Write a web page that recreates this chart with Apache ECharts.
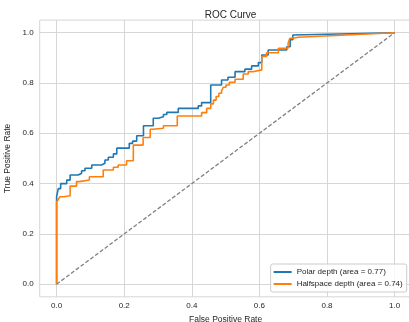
<!DOCTYPE html>
<html>
<head>
<meta charset="utf-8">
<script src="https://cdn.jsdelivr.net/npm/echarts@6/dist/echarts.min.js"></script>
<style>
  html, body { margin: 0; padding: 0; background: #fff; }
  #chart { width: 409px; height: 322px; }
</style>
</head>
<body>
<div id="chart"></div>
<script>
// ROC points: fpr where the curve steps up, tpr after the step
const polarFpr = [0, 0.005, 0.012, 0.030, 0.040, 0.064, 0.074, 0.084, 0.104, 0.133, 0.143, 0.153, 0.168, 0.178, 0.215, 0.225, 0.237, 0.257, 0.286, 0.301, 0.316, 0.326, 0.360, 0.419, 0.429, 0.456, 0.488, 0.507, 0.528, 0.557, 0.577, 0.597, 0.607, 0.626, 0.681, 0.691, 0.699, 1.0];
const polarTpr = [0.348, 0.380, 0.400, 0.414, 0.434, 0.441, 0.451, 0.461, 0.474, 0.481, 0.494, 0.505, 0.518, 0.541, 0.560, 0.569, 0.590, 0.630, 0.660, 0.666, 0.675, 0.683, 0.699, 0.709, 0.722, 0.792, 0.812, 0.823, 0.845, 0.855, 0.868, 0.881, 0.911, 0.931, 0.944, 0.972, 0.991, 1.0];

const halfFpr = [0, 0.005, 0.010, 0.020, 0.040, 0.059, 0.067, 0.097, 0.138, 0.168, 0.182, 0.207, 0.227, 0.256, 0.277, 0.284, 0.316, 0.357, 0.429, 0.444, 0.456, 0.464, 0.472, 0.480, 0.488, 0.493, 0.501, 0.511, 0.528, 0.552, 0.567, 0.580, 0.607, 0.621, 0.656, 0.685, 0.690, 0.700, 0.715, 1.0];
const halfTpr = [0.328, 0.337, 0.348, 0.352, 0.390, 0.408, 0.414, 0.427, 0.454, 0.465, 0.474, 0.491, 0.553, 0.583, 0.616, 0.620, 0.630, 0.669, 0.682, 0.699, 0.717, 0.732, 0.746, 0.759, 0.769, 0.783, 0.792, 0.803, 0.815, 0.836, 0.845, 0.852, 0.905, 0.920, 0.938, 0.958, 0.978, 0.982, 0.988, 1.0];

const chanceLine = [[0, 0], [1, 1]];
const tickValues = [0, 0.2, 0.4, 0.6, 0.8, 1.0];
const seriesNames = ['Polar depth (area = 0.77)', 'Halfspace depth (area = 0.74)'];

// turn the jump points into a staircase, last point joined straight
function staircase(fpr, tpr) {
  const pts = [[0, 0]];
  let prev = 0;
  for (let i = 0; i < fpr.length - 1; i++) {
    pts.push([fpr[i], prev], [fpr[i], tpr[i]]);
    prev = tpr[i];
  }
  pts.push([fpr[fpr.length - 1], tpr[tpr.length - 1]]);
  return pts;
}

function tickLabel(v) {
  return Number(v).toFixed(1);
}

const chart = echarts.init(document.getElementById('chart'));
const gridColor = '#d6d6d6';
const textColor = '#262626';

function valueAxis(name, gap, margin) {
  return {
    type: 'value', min: -0.05, max: 1.05,
    name: name, nameLocation: 'middle', nameGap: gap,
    nameTextStyle: { fontSize: 8.5, color: textColor },
    axisLine: { show: false },
    axisTick: { show: false, customValues: tickValues },
    axisLabel: { fontSize: 8, color: textColor, margin: margin, customValues: tickValues, formatter: tickLabel },
    splitLine: { show: true, lineStyle: { color: gridColor, width: 1 } }
  };
}

const option = {
  animation: false,
  backgroundColor: '#fff',
  textStyle: { fontFamily: 'Liberation Sans' },
  title: {
    text: 'ROC Curve',
    left: 225.5,
    textAlign: 'center',
    top: 5,
    textStyle: { fontSize: 10, fontWeight: 'normal', color: textColor, fontFamily: 'Liberation Sans' }
  },
  grid: {
    left: 39.7, top: 20.1, width: 371.8, height: 276.7,
    outerBoundsMode: 'none', containLabel: false,
    show: true, borderColor: gridColor, borderWidth: 1
  },
  xAxis: valueAxis('False Positive Rate', 14, 5),
  yAxis: valueAxis('True Positive Rate', 24, 6),
  legend: {
    data: seriesNames,
    orient: 'vertical',
    right: 2.3, bottom: 30,
    itemWidth: 18, itemHeight: 2, itemGap: 2,
    icon: 'rect',
    padding: [3, 4, 3, 3],
    backgroundColor: 'rgba(255,255,255,0.8)',
    borderColor: '#cccccc', borderWidth: 1, borderRadius: 2,
    textStyle: { fontSize: 8, color: textColor, lineHeight: 10 }
  },
  series: [
    {
      name: 'chance', type: 'line', data: chanceLine, symbol: 'none',
      lineStyle: { color: '#808080', width: 1.3, type: [4, 2] }, z: 1
    },
    {
      name: seriesNames[0], type: 'line', data: staircase(polarFpr, polarTpr), symbol: 'none',
      color: '#1f77b4', lineStyle: { width: 1.6 }, z: 2
    },
    {
      name: seriesNames[1], type: 'line', data: staircase(halfFpr, halfTpr), symbol: 'none',
      color: '#ff7f0e', lineStyle: { width: 1.6 }, z: 3
    }
  ]
};

chart.setOption(option);
</script>
</body>
</html>
